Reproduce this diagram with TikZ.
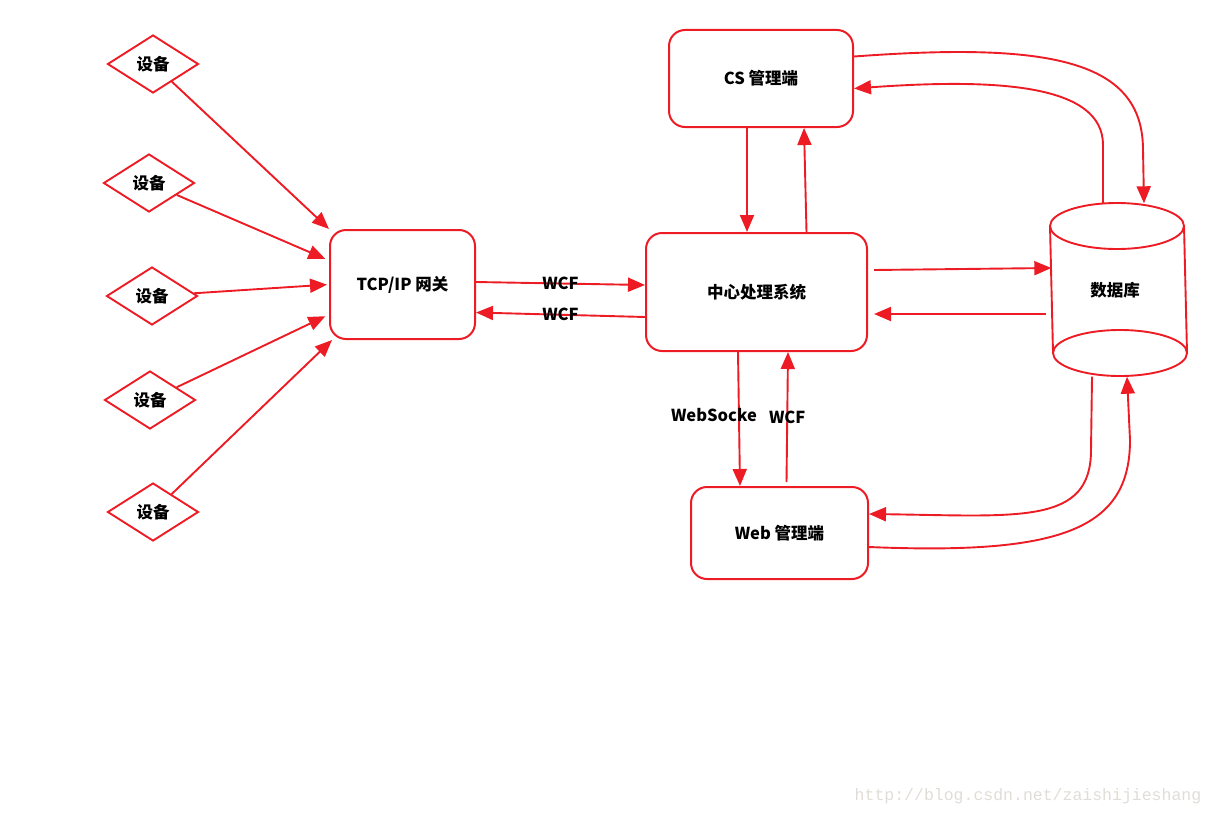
\documentclass[tikz,border=0pt]{standalone}
\usepackage{fontspec}
\setmainfont{Noto Sans CJK SC}
\setmonofont{Liberation Mono}
\usetikzlibrary{shapes.geometric,arrows.meta}
\definecolor{linered}{RGB}{237,28,36}
\definecolor{markgray}{RGB}{224,221,215}

\begin{document}
\begin{tikzpicture}[%
      x=1pt, y=-1pt,
      every node/.style={font=\fontsize{16.5}{19}\selectfont\bfseries, text=black},
      device/.style={diamond, draw=linered, line width=1.9pt, minimum width=91pt, minimum height=58pt, inner sep=0pt},
      unit/.style={rectangle, draw=linered, line width=2pt, rounded corners=16pt},
      link/.style={color=linered, line width=1.9pt, -{Triangle[length=17pt,width=14pt]}},
      ]
      \useasboundingbox (0,0) rectangle (1214,816);

      \node [device] (d1) at (153,64) {设备};
      \node [device] (d2) at (149,183) {设备};
      \node [device] (d3) at (152,296) {设备};
      \node [device] (d4) at (150,400) {设备};
      \node [device] (d5) at (153,512) {设备};

      \node [unit, minimum width=145pt, minimum height=109pt] (tcp) at (402.5,284.5) {TCP/IP 网关};
      \node [unit, minimum width=221pt, minimum height=118pt] (hub) at (756.5,292) {中心处理系统};
      \node [unit, minimum width=184pt, minimum height=97pt] (cs) at (761,78.5) {CS 管理端};
      \node [unit, minimum width=177pt, minimum height=92pt] (web) at (779.5,533) {Web 管理端};

      % database
      \node [minimum width=137pt, minimum height=173pt] (db) at (1115,290) {数据库};
      \draw [color=linered, line width=1.9pt] (1117,226) ellipse [x radius=67pt, y radius=23pt];
      \draw [color=linered, line width=1.9pt] (1120,353) ellipse [x radius=67pt, y radius=23pt];
      \draw [color=linered, line width=1.9pt] (1050,226) -- (1053,353);
      \draw [color=linered, line width=1.9pt] (1184,226) -- (1187,353);

      \draw [link] (d1) -- (tcp.north west);
      \draw [link, shorten >=4pt] (d2) -- ([yshift=24pt]tcp.west);
      \draw [link, shorten >=2pt] (d3) -- (tcp.west);
      \draw [link, shorten >=4pt] (d4) -- ([yshift=-30pt]tcp.west);
      \draw [link] (d5) -- ([xshift=3pt]tcp.south west);

      \draw [link] ([yshift=2.5pt]tcp.east) -- node {WCF} ([yshift=7pt]hub.west);
      \draw [link] ([yshift=-25pt]hub.west) -- node {WCF} ([yshift=-28pt]tcp.east);

      \draw [link] ([xshift=-14pt]cs.south) -- ([xshift=-9.5pt]hub.north);
      \draw [link] ([xshift=50pt]hub.north) -- ([xshift=43pt]cs.south);

      \draw [link] ([xshift=6pt,yshift=22pt]hub.east) -- ([xshift=5pt,yshift=22pt]db.west);
      \draw [link] ([yshift=-24pt]db.west) -- ([xshift=6pt,yshift=-22pt]hub.east);

      \draw [link] ([xshift=-18.5pt]hub.south) -- node [pos=0.47, xshift=-25pt] {WebSocke} ([xshift=-39.5pt]web.north);
      \draw [link] ([xshift=7pt,yshift=4pt]web.north) -- node {WCF} ([xshift=31.5pt]hub.south);

      \draw [link] ([yshift=22pt]cs.east) .. controls (1050,42) and (1143,60) .. (1143,150) -- ([xshift=29pt]db.north);
      \draw [link] ([xshift=-12pt]db.north) -- (1103,145) .. controls (1103,85) and (1000,78) .. ([yshift=-10pt]cs.east);
      \draw [link] ([xshift=-23pt]db.south) -- (1091,450) .. controls (1091,525) and (1020,516) .. ([yshift=19pt]web.east);
      \draw [link] ([yshift=-14pt]web.east) .. controls (1060,555) and (1130,530) .. (1130,440) -- ([xshift=12pt]db.south);

      \node [font=\ttfamily\fontsize{16.5}{18}\selectfont, text=markgray] (mark) at (1028,796) {http://blog.csdn.net/zaishijieshang};
      \end{tikzpicture}
\end{document}
